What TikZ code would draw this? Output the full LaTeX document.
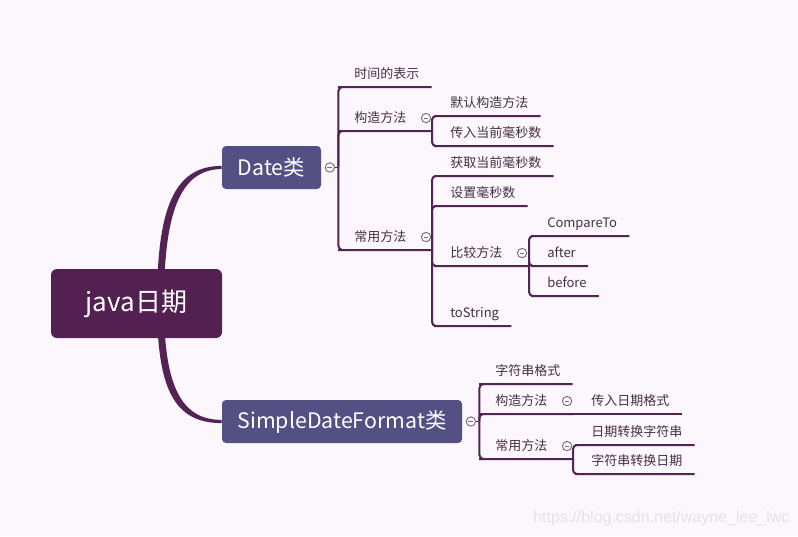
\documentclass[tikz,border=0pt]{standalone}
\usepackage{fontspec}
\setmainfont{Noto Sans CJK SC}
\newfontfamily\urlfont{Liberation Sans}
\usepackage{tikz}
\usetikzlibrary{positioning,backgrounds}

\definecolor{bgpink}{HTML}{FCF7FC}
\definecolor{rootpurple}{HTML}{522051}
\definecolor{mainblue}{HTML}{545084}
\definecolor{branchpurple}{HTML}{532353}
\definecolor{labeltext}{HTML}{452F47}
\definecolor{dotgray}{HTML}{7B6A7C}
\definecolor{markgray}{HTML}{E7E1E7}

\begin{document}
\begin{tikzpicture}[
  x=0.75pt, y=-0.75pt,
  rootbox/.style={rectangle,rounded corners=4.5pt,fill=rootpurple,text=white,minimum width=128.25pt,minimum height=51.75pt,font=\fontsize{19.5}{22}\selectfont},
  mainbox/.style={rectangle,rounded corners=3pt,fill=mainblue,text=white,minimum height=32.25pt,font=\fontsize{16}{19}\selectfont},
  leaf/.style={anchor=south west,inner xsep=9pt,inner ysep=4.5pt,text height=8pt,text depth=2pt,text=labeltext,font=\fontsize{9.75}{12}\selectfont},
  foldmark/.style={circle,draw=dotgray,fill=bgpink,line width=0.7pt,minimum size=7pt,inner sep=0pt,
    path picture={\draw[dotgray,line width=0.7pt] ([xshift=-1.8pt]path picture bounding box.center) -- ([xshift=1.8pt]path picture bounding box.center);}},
  branch/.style={draw=branchpurple,line width=1.5pt,rounded corners=3pt}
]
\useasboundingbox (0,0) rectangle (798,536);

% main nodes
\node[rootbox] (root) at (136.5,303.5) {java日期};
\node[mainbox,minimum width=74.25pt] (date) at (271.5,167.5) {Date类};
\node[mainbox,minimum width=180pt] (sdf) at (342,421.5) {SimpleDateFormat类};

\coordinate (rootl) at ([xshift=15.4pt]root.center);
\coordinate (rootr) at ([xshift=20.6pt]root.center);

\begin{pgfonlayer}{background}
\fill[bgpink] (0,0) rectangle (798,536);
% tapered curves from the root
\fill[branchpurple] (rootl) .. controls +(0,-95) and +(-48,0) .. ([yshift=1.2pt]date.west)
  -- ([yshift=-1.2pt]date.west) .. controls +(-42,0) and +(0,-90) .. (rootr) -- cycle;
\fill[branchpurple] (rootl) .. controls +(0,85) and +(-48,0) .. ([yshift=-1.2pt]sdf.west)
  -- ([yshift=1.2pt]sdf.west) .. controls +(-42,0) and +(0,80) .. (rootr) -- cycle;
\end{pgfonlayer}

% Date branch
\node[foldmark,right=2.6pt of date] (datefold) {};
\coordinate[right=2.6pt of datefold] (datehub);
\node[leaf] (dtime) at (342,87) {时间的表示};
\node[leaf] (dctor) at (342,131) {构造方法};
\node[leaf] (duse) at (342,250) {常用方法};
\node[foldmark,right=1.8pt of dctor] (dctorfold) {};
\node[foldmark,right=1.8pt of duse] (dusefold) {};
\coordinate (dctorhub) at (432,131);
\coordinate (dusehub) at (432,250);

\draw[branch,line width=1pt] (datefold.east) -- (datehub);
\draw[branch] (datehub) |- (dtime.south west) -- (dtime.south east);
\draw[branch] (datehub) |- (dctor.south west) -- (dctorhub);
\draw[branch] (datehub) |- (duse.south west) -- (dusehub);

\node[leaf] (dctor1) at (438,116) {默认构造方法};
\node[leaf] (dctor2) at (438,146) {传入当前毫秒数};
\draw[branch] (dctorhub) |- (dctor1.south west) -- (dctor1.south east);
\draw[branch] (dctorhub) |- (dctor2.south west) -- (dctor2.south east);

\node[leaf] (dget) at (438,176) {获取当前毫秒数};
\node[leaf] (dset) at (438,206) {设置毫秒数};
\node[leaf] (dcmp) at (438,266) {比较方法};
\node[leaf] (dstr) at (438,326) {toString};
\node[foldmark,right=1.8pt of dcmp] (dcmpfold) {};
\coordinate (dcmphub) at (529,266);
\draw[branch] (dusehub) |- (dget.south west) -- (dget.south east);
\draw[branch] (dusehub) |- (dset.south west) -- (dset.south east);
\draw[branch] (dusehub) |- (dcmp.south west) -- (dcmphub);
\draw[branch] (dusehub) |- (dstr.south west) -- (dstr.south east);

\node[leaf] (cmp1) at (535,236) {CompareTo};
\node[leaf] (cmp2) at (535,266) {after};
\node[leaf] (cmp3) at (535,296) {before};
\draw[branch] (dcmphub) |- (cmp1.south west) -- (cmp1.south east);
\draw[branch] (dcmphub) |- (cmp2.south west) -- (cmp2.south east);
\draw[branch] (dcmphub) |- (cmp3.south west) -- (cmp3.south east);

% SimpleDateFormat branch
\node[foldmark,right=2.6pt of sdf] (sdffold) {};
\coordinate[right=2.6pt of sdffold] (sdfhub);
\node[leaf] (sfmt) at (483,384) {字符串格式};
\node[leaf] (sctor) at (483,414) {构造方法};
\node[leaf] (suse) at (483,459) {常用方法};
\node[foldmark,right=1.8pt of sctor] (sctorfold) {};
\node[foldmark,right=1.8pt of suse] (susefold) {};
\coordinate (sctorhub) at (573,414);
\coordinate (susehub) at (573,459);

\draw[branch,line width=1pt] (sdffold.east) -- (sdfhub);
\draw[branch] (sdfhub) |- (sfmt.south west) -- (sfmt.south east);
\draw[branch] (sdfhub) |- (sctor.south west) -- (sctorhub);
\draw[branch] (sdfhub) |- (suse.south west) -- (susehub);

\node[leaf] (sctor1) at (579,414) {传入日期格式};
\draw[branch] (sctorhub) -- (sctor1.south west) -- (sctor1.south east);

\node[leaf] (suse1) at (579,445) {日期转换字符串};
\node[leaf] (suse2) at (579,474) {字符串转换日期};
\draw[branch] (susehub) |- (suse1.south west) -- (suse1.south east);
\draw[branch] (susehub) |- (suse2.south west) -- (suse2.south east);

% watermark
\node[anchor=west,inner sep=0pt,text=markgray,font=\urlfont\fontsize{12}{14}\selectfont] (mark) at (533,518) {https://blog.csdn.net/wayne\_lee\_lwc};
\end{tikzpicture}
\end{document}
